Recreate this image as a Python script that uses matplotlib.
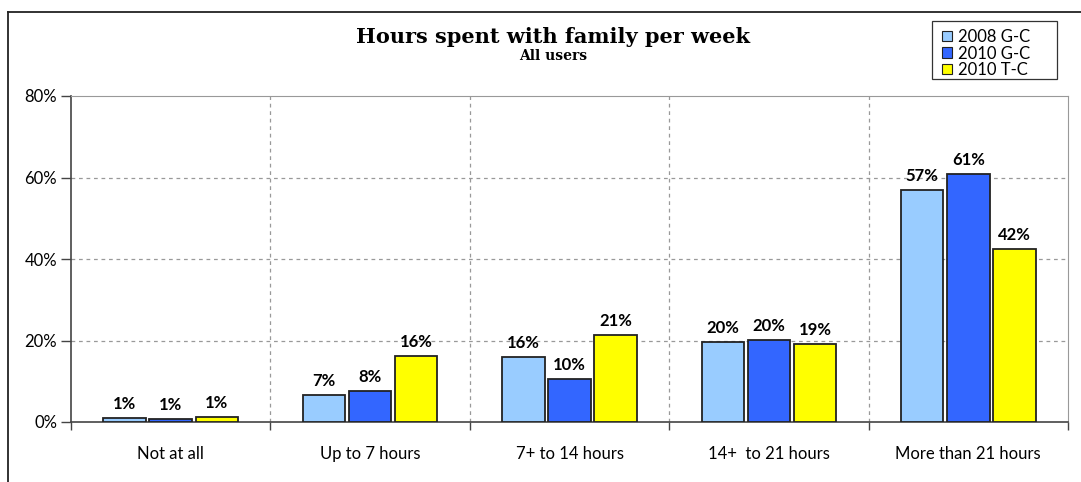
import numpy as np
import matplotlib.pyplot as plt
from matplotlib.lines import Line2D
from matplotlib.patches import Rectangle

categories = ["Not at all", "Up to 7 hours", "7+ to 14 hours", "14+  to 21 hours", "More than 21 hours"]
series_names = ["2008 G-C", "2010 G-C", "2010 T-C"]
g2008 = [1.0, 6.6, 15.9, 19.6, 56.9]
g2010 = [0.7, 7.6, 10.5, 20.1, 60.8]
t2010 = [1.3, 16.2, 21.3, 19.1, 42.4]
colors = ["#99CCFF", "#3366FF", "#FFFF00"]
yticks = [0, 20, 40, 60, 80]

body_font = "Lato"
title_font = "DejaVu Serif"
W, H = 1081, 482

fig = plt.figure(figsize=(W / 100, H / 100), dpi=100)
ax = fig.add_axes([71 / W, 1 - 422 / H, 997 / W, 326 / H])

x = np.arange(len(categories))
width = 0.213
step = 0.231
for i, (vals, col) in enumerate(zip([g2008, g2010, t2010], colors)):
    pos = x + (i - 1) * step
    ax.bar(pos, vals, width, color=col, edgecolor="#222222", linewidth=1.3,
           zorder=3, label=series_names[i])
    for xp, v in zip(pos, vals):
        ax.text(xp, v + 1.5, f"{round(v)}%", ha="center", va="bottom",
                fontsize=12, fontweight="bold", family=body_font, zorder=4)

ax.set_xlim(-0.5, len(categories) - 0.5)
ax.set_ylim(0, 80)

# boundaries between groups get the tick marks, the names sit in the middle
ax.set_xticks(np.arange(-0.5, len(categories)), minor=False)
ax.set_xticklabels([])
ax.set_xticks(x, minor=True)
ax.set_xticklabels(categories, minor=True, fontsize=12, family=body_font)
ax.tick_params(axis="x", which="major", length=6, color="#444444", width=1)
ax.tick_params(axis="x", which="minor", length=0, pad=17)

ax.set_yticks(yticks)
ax.set_yticklabels([f"{t}%" for t in yticks], fontsize=12, family=body_font)
ax.tick_params(axis="y", length=7, color="#444444", width=1, pad=3)

for y in yticks[1:-1]:
    ax.axhline(y, color="#999999", linestyle=(0, (3, 3)), linewidth=0.9, zorder=1)
for b in np.arange(0.5, len(categories) - 1):
    ax.axvline(b, color="#999999", linestyle=(0, (3, 3)), linewidth=0.9, zorder=1)

ax.spines["left"].set_color("#444444")
ax.spines["bottom"].set_color("#444444")
ax.spines["left"].set_linewidth(1.2)
ax.spines["bottom"].set_linewidth(1.2)
ax.spines["top"].set_color("#999999")
ax.spines["right"].set_color("#999999")

fig.text(553 / W, 1 - 37 / H, "Hours spent with family per week", ha="center", va="center",
         fontsize=15, fontweight="bold", family=title_font)
fig.text(553 / W, 1 - 56 / H, "All users", ha="center", va="center",
         fontsize=10, fontweight="bold", family=title_font)

# legend: frame, colour squares and names placed by hand
fig.add_artist(Rectangle((932 / W, 1 - 79 / H), 125 / W, 58 / H, transform=fig.transFigure,
                         facecolor="white", edgecolor="#333333", linewidth=0.9))
for k, (name, col) in enumerate(zip(series_names, colors)):
    yc = 36 + k * 16.5
    fig.add_artist(Rectangle((942 / W, 1 - (yc + 5) / H), 10 / W, 10 / H,
                             transform=fig.transFigure, facecolor=col,
                             edgecolor="#222222", linewidth=0.8))
    fig.text(958 / W, 1 - yc / H, name, ha="left", va="center_baseline",
             fontsize=12, family=body_font)

# outer chart frame
fig.add_artist(Line2D([8 / W, 1], [1 - 12 / H, 1 - 12 / H], color="#222222", linewidth=1.3))
fig.add_artist(Line2D([8 / W, 8 / W], [0, 1 - 12 / H], color="#222222", linewidth=1.3))

fig.savefig("out.png", dpi=100)
